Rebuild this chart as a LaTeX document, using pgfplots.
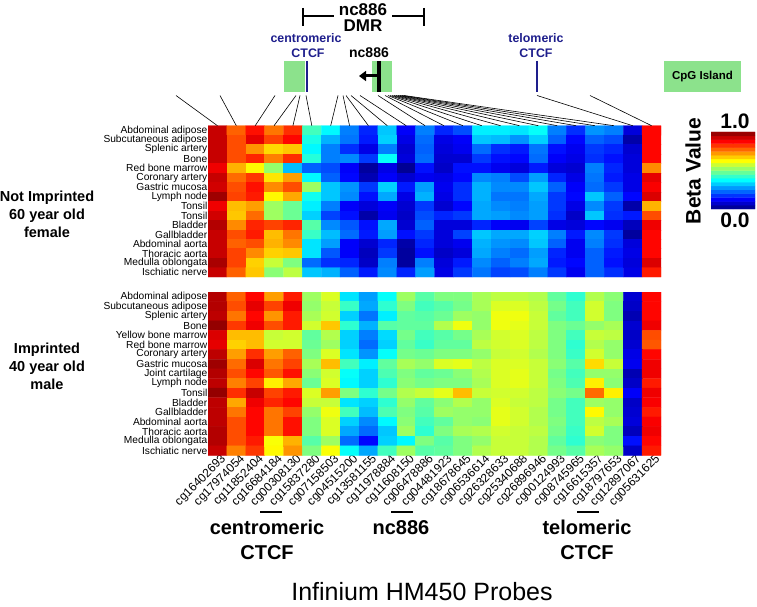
\documentclass[border=0pt]{standalone}
\usepackage{pgfplots}
\pgfplotsset{compat=1.18}
\usetikzlibrary{arrows.meta}
\usepackage{fontspec}
\setmainfont{Liberation Sans}
\definecolor{annblue}{RGB}{30,30,140}
\definecolor{cpggreen}{RGB}{140,226,140}
\newcommand{\fs}[2]{\fontsize{#1}{#2}\selectfont}
\begin{document}
\begin{tikzpicture}
\useasboundingbox (0pt,0pt) rectangle (757pt,-607pt);
\pgfplotsset{
  heat/.style={
    anchor=north west, scale only axis, width=453pt,
    xmin=-0.5, xmax=23.5,
    colormap/jet, point meta min=0, point meta max=1,
    axis line style={draw=none}, major tick length=0pt,
    yticklabel style={font=\fs{10.2}{10}, inner sep=0.5pt},
  }
}
% ---------------- top heatmap ----------------
\begin{axis}[heat, at={(208pt,-125.7pt)}, height=151.3pt, ymin=-15.5, ymax=0.5,
  xtick=\empty,
  ytick={0,-1,-2,-3,-4,-5,-6,-7,-8,-9,-10,-11,-12,-13,-14,-15},
  yticklabels={Abdominal adipose,Subcutaneous adipose,Splenic artery,Bone,Red bone marrow,Coronary artery,Gastric mucosa,Lymph node,Tonsil,Tonsil,Bladder,Gallbladder,Abdominal aorta,Thoracic aorta,Medulla oblongata,Ischiatic nerve}]
\addplot[matrix plot*, mesh/cols=24, point meta=explicit] coordinates {
(0,0)[0.93] (1,0)[0.78] (2,0)[0.86] (3,0)[0.76] (4,0)[0.83] (5,0)[0.44] (6,0)[0.37] (7,0)[0.25] (8,0)[0.16] (9,0)[0.32] (10,0)[0.12] (11,0)[0.25] (12,0)[0.16] (13,0)[0.20] (14,0)[0.36] (15,0)[0.36] (16,0)[0.35] (17,0)[0.38] (18,0)[0.25] (19,0)[0.17] (20,0)[0.27] (21,0)[0.25] (22,0)[0.09] (23,0)[0.87]
(0,-1)[0.93] (1,-1)[0.80] (2,-1)[0.90] (3,-1)[0.81] (4,-1)[0.87] (5,-1)[0.40] (6,-1)[0.30] (7,-1)[0.24] (8,-1)[0.15] (9,-1)[0.33] (10,-1)[0.10] (11,-1)[0.23] (12,-1)[0.10] (13,-1)[0.12] (14,-1)[0.32] (15,-1)[0.31] (16,-1)[0.27] (17,-1)[0.33] (18,-1)[0.22] (19,-1)[0.13] (20,-1)[0.22] (21,-1)[0.20] (22,-1)[0.04] (23,-1)[0.87]
(0,-2)[0.93] (1,-2)[0.80] (2,-2)[0.73] (3,-2)[0.66] (4,-2)[0.68] (5,-2)[0.37] (6,-2)[0.25] (7,-2)[0.17] (8,-2)[0.10] (9,-2)[0.25] (10,-2)[0.08] (11,-2)[0.22] (12,-2)[0.09] (13,-2)[0.11] (14,-2)[0.23] (15,-2)[0.17] (16,-2)[0.15] (17,-2)[0.24] (18,-2)[0.14] (19,-2)[0.11] (20,-2)[0.18] (21,-2)[0.16] (22,-2)[0.08] (23,-2)[0.87]
(0,-3)[0.93] (1,-3)[0.80] (2,-3)[0.84] (3,-3)[0.75] (4,-3)[0.83] (5,-3)[0.41] (6,-3)[0.25] (7,-3)[0.26] (8,-3)[0.18] (9,-3)[0.38] (10,-3)[0.09] (11,-3)[0.23] (12,-3)[0.08] (13,-3)[0.08] (14,-3)[0.18] (15,-3)[0.14] (16,-3)[0.13] (17,-3)[0.23] (18,-3)[0.12] (19,-3)[0.10] (20,-3)[0.17] (21,-3)[0.14] (22,-3)[0.09] (23,-3)[0.87]
(0,-4)[0.89] (1,-4)[0.70] (2,-4)[0.63] (3,-4)[0.52] (4,-4)[0.31] (5,-4)[0.22] (6,-4)[0.20] (7,-4)[0.12] (8,-4)[0.03] (9,-4)[0.10] (10,-4)[0.02] (11,-4)[0.14] (12,-4)[0.07] (13,-4)[0.14] (14,-4)[0.14] (15,-4)[0.11] (16,-4)[0.09] (17,-4)[0.15] (18,-4)[0.09] (19,-4)[0.08] (20,-4)[0.25] (21,-4)[0.16] (22,-4)[0.09] (23,-4)[0.74]
(0,-5)[0.93] (1,-5)[0.77] (2,-5)[0.82] (3,-5)[0.65] (4,-5)[0.72] (5,-5)[0.37] (6,-5)[0.22] (7,-5)[0.13] (8,-5)[0.05] (9,-5)[0.12] (10,-5)[0.08] (11,-5)[0.11] (12,-5)[0.10] (13,-5)[0.13] (14,-5)[0.26] (15,-5)[0.25] (16,-5)[0.20] (17,-5)[0.28] (18,-5)[0.16] (19,-5)[0.10] (20,-5)[0.24] (21,-5)[0.15] (22,-5)[0.10] (23,-5)[0.90]
(0,-6)[0.92] (1,-6)[0.80] (2,-6)[0.86] (3,-6)[0.74] (4,-6)[0.80] (5,-6)[0.53] (6,-6)[0.32] (7,-6)[0.27] (8,-6)[0.18] (9,-6)[0.33] (10,-6)[0.15] (11,-6)[0.28] (12,-6)[0.11] (13,-6)[0.17] (14,-6)[0.30] (15,-6)[0.26] (16,-6)[0.26] (17,-6)[0.32] (18,-6)[0.22] (19,-6)[0.12] (20,-6)[0.23] (21,-6)[0.18] (22,-6)[0.10] (23,-6)[0.88]
(0,-7)[0.97] (1,-7)[0.81] (2,-7)[0.85] (3,-7)[0.63] (4,-7)[0.71] (5,-7)[0.39] (6,-7)[0.32] (7,-7)[0.26] (8,-7)[0.14] (9,-7)[0.29] (10,-7)[0.10] (11,-7)[0.30] (12,-7)[0.10] (13,-7)[0.17] (14,-7)[0.30] (15,-7)[0.24] (16,-7)[0.24] (17,-7)[0.29] (18,-7)[0.18] (19,-7)[0.13] (20,-7)[0.32] (21,-7)[0.22] (22,-7)[0.13] (23,-7)[0.91]
(0,-8)[0.89] (1,-8)[0.69] (2,-8)[0.72] (3,-8)[0.53] (4,-8)[0.48] (5,-8)[0.36] (6,-8)[0.25] (7,-8)[0.12] (8,-8)[0.09] (9,-8)[0.12] (10,-8)[0.08] (11,-8)[0.18] (12,-8)[0.08] (13,-8)[0.13] (14,-8)[0.29] (15,-8)[0.26] (16,-8)[0.25] (17,-8)[0.28] (18,-8)[0.18] (19,-8)[0.10] (20,-8)[0.26] (21,-8)[0.18] (22,-8)[0.04] (23,-8)[0.70]
(0,-9)[0.92] (1,-9)[0.68] (2,-9)[0.77] (3,-9)[0.53] (4,-9)[0.48] (5,-9)[0.33] (6,-9)[0.19] (7,-9)[0.14] (8,-9)[0.04] (9,-9)[0.11] (10,-9)[0.07] (11,-9)[0.20] (12,-9)[0.16] (13,-9)[0.18] (14,-9)[0.29] (15,-9)[0.28] (16,-9)[0.26] (17,-9)[0.28] (18,-9)[0.17] (19,-9)[0.07] (20,-9)[0.32] (21,-9)[0.17] (22,-9)[0.15] (23,-9)[0.80]
(0,-10)[0.95] (1,-10)[0.74] (2,-10)[0.84] (3,-10)[0.81] (4,-10)[0.84] (5,-10)[0.46] (6,-10)[0.26] (7,-10)[0.21] (8,-10)[0.14] (9,-10)[0.29] (10,-10)[0.08] (11,-10)[0.22] (12,-10)[0.09] (13,-10)[0.09] (14,-10)[0.16] (15,-10)[0.12] (16,-10)[0.11] (17,-10)[0.19] (18,-10)[0.10] (19,-10)[0.09] (20,-10)[0.13] (21,-10)[0.11] (22,-10)[0.06] (23,-10)[0.89]
(0,-11)[0.93] (1,-11)[0.80] (2,-11)[0.85] (3,-11)[0.69] (4,-11)[0.76] (5,-11)[0.43] (6,-11)[0.31] (7,-11)[0.23] (8,-11)[0.15] (9,-11)[0.28] (10,-11)[0.14] (11,-11)[0.18] (12,-11)[0.09] (13,-11)[0.19] (14,-11)[0.32] (15,-11)[0.29] (16,-11)[0.29] (17,-11)[0.33] (18,-11)[0.25] (19,-11)[0.15] (20,-11)[0.26] (21,-11)[0.18] (22,-11)[0.03] (23,-11)[0.87]
(0,-12)[0.93] (1,-12)[0.78] (2,-12)[0.80] (3,-12)[0.70] (4,-12)[0.74] (5,-12)[0.35] (6,-12)[0.28] (7,-12)[0.12] (8,-12)[0.08] (9,-12)[0.16] (10,-12)[0.04] (11,-12)[0.16] (12,-12)[0.09] (13,-12)[0.11] (14,-12)[0.30] (15,-12)[0.27] (16,-12)[0.26] (17,-12)[0.32] (18,-12)[0.22] (19,-12)[0.11] (20,-12)[0.25] (21,-12)[0.17] (22,-12)[0.09] (23,-12)[0.87]
(0,-13)[0.93] (1,-13)[0.81] (2,-13)[0.74] (3,-13)[0.67] (4,-13)[0.68] (5,-13)[0.35] (6,-13)[0.21] (7,-13)[0.12] (8,-13)[0.06] (9,-13)[0.18] (10,-13)[0.03] (11,-13)[0.14] (12,-13)[0.07] (13,-13)[0.09] (14,-13)[0.29] (15,-13)[0.25] (16,-13)[0.23] (17,-13)[0.28] (18,-13)[0.16] (19,-13)[0.11] (20,-13)[0.22] (21,-13)[0.15] (22,-13)[0.10] (23,-13)[0.87]
(0,-14)[0.96] (1,-14)[0.81] (2,-14)[0.67] (3,-14)[0.57] (4,-14)[0.50] (5,-14)[0.23] (6,-14)[0.17] (7,-14)[0.16] (8,-14)[0.07] (9,-14)[0.25] (10,-14)[0.03] (11,-14)[0.25] (12,-14)[0.09] (13,-14)[0.15] (14,-14)[0.26] (15,-14)[0.22] (16,-14)[0.25] (17,-14)[0.29] (18,-14)[0.15] (19,-14)[0.13] (20,-14)[0.22] (21,-14)[0.14] (22,-14)[0.09] (23,-14)[0.91]
(0,-15)[0.93] (1,-15)[0.78] (2,-15)[0.68] (3,-15)[0.51] (4,-15)[0.56] (5,-15)[0.32] (6,-15)[0.30] (7,-15)[0.22] (8,-15)[0.15] (9,-15)[0.26] (10,-15)[0.16] (11,-15)[0.28] (12,-15)[0.10] (13,-15)[0.18] (14,-15)[0.24] (15,-15)[0.19] (16,-15)[0.20] (17,-15)[0.25] (18,-15)[0.18] (19,-15)[0.11] (20,-15)[0.22] (21,-15)[0.17] (22,-15)[0.10] (23,-15)[0.85]
};
\end{axis}
% ---------------- bottom heatmap ----------------
\begin{axis}[heat, at={(208pt,-292pt)}, height=163.4pt, ymin=-16.5, ymax=0.5,
  xtick={0,...,23},
  xticklabels={cg16402693,cg17974054,cg11852404,cg16684184,cg00308130,cg15837280,cg07158503,cg04515200,cg13581155,cg11978884,cg11608150,cg06478886,cg04481923,cg18678645,cg06536614,cg26328633,cg25340688,cg26896946,cg00124993,cg08745965,cg16615357,cg18797653,cg12897067,cg05631625},
  xticklabel style={font=\fs{12}{12}, rotate=45, anchor=north east, inner sep=0.5pt, xshift=4pt},
  ytick={0,-1,-2,-3,-4,-5,-6,-7,-8,-9,-10,-11,-12,-13,-14,-15,-16},
  yticklabels={Abdominal adipose,Subcutaneous adipose,Splenic artery,Bone,Yellow bone marrow,Red bone marrow,Coronary artery,Gastric mucosa,Joint cartilage,Lymph node,Tonsil,Bladder,Gallbladder,Abdominal aorta,Thoracic aorta,Medulla oblongata,Ischiatic nerve}]
\addplot[matrix plot*, mesh/cols=24, point meta=explicit] coordinates {
(0,0)[0.95] (1,0)[0.78] (2,0)[0.87] (3,0)[0.72] (4,0)[0.85] (5,0)[0.53] (6,0)[0.59] (7,0)[0.35] (8,0)[0.28] (9,0)[0.38] (10,0)[0.53] (11,0)[0.46] (12,0)[0.50] (13,0)[0.50] (14,0)[0.54] (15,0)[0.56] (16,0)[0.56] (17,0)[0.55] (18,0)[0.47] (19,0)[0.42] (20,0)[0.55] (21,0)[0.51] (22,0)[0.08] (23,0)[0.87]
(0,-1)[0.95] (1,-1)[0.80] (2,-1)[0.90] (3,-1)[0.81] (4,-1)[0.89] (5,-1)[0.52] (6,-1)[0.57] (7,-1)[0.43] (8,-1)[0.29] (9,-1)[0.42] (10,-1)[0.50] (11,-1)[0.44] (12,-1)[0.46] (13,-1)[0.49] (14,-1)[0.54] (15,-1)[0.59] (16,-1)[0.59] (17,-1)[0.56] (18,-1)[0.49] (19,-1)[0.44] (20,-1)[0.58] (21,-1)[0.50] (22,-1)[0.07] (23,-1)[0.87]
(0,-2)[0.94] (1,-2)[0.76] (2,-2)[0.87] (3,-2)[0.73] (4,-2)[0.85] (5,-2)[0.54] (6,-2)[0.58] (7,-2)[0.33] (8,-2)[0.24] (9,-2)[0.36] (10,-2)[0.47] (11,-2)[0.46] (12,-2)[0.48] (13,-2)[0.53] (14,-2)[0.52] (15,-2)[0.61] (16,-2)[0.61] (17,-2)[0.57] (18,-2)[0.47] (19,-2)[0.44] (20,-2)[0.58] (21,-2)[0.50] (22,-2)[0.05] (23,-2)[0.87]
(0,-3)[0.98] (1,-3)[0.82] (2,-3)[0.89] (3,-3)[0.80] (4,-3)[0.85] (5,-3)[0.58] (6,-3)[0.68] (7,-3)[0.42] (8,-3)[0.30] (9,-3)[0.46] (10,-3)[0.47] (11,-3)[0.47] (12,-3)[0.55] (13,-3)[0.61] (14,-3)[0.52] (15,-3)[0.61] (16,-3)[0.60] (17,-3)[0.57] (18,-3)[0.50] (19,-3)[0.48] (20,-3)[0.52] (21,-3)[0.54] (22,-3)[0.08] (23,-3)[0.89]
(0,-4)[0.91] (1,-4)[0.69] (2,-4)[0.69] (3,-4)[0.57] (4,-4)[0.58] (5,-4)[0.47] (6,-4)[0.55] (7,-4)[0.33] (8,-4)[0.25] (9,-4)[0.34] (10,-4)[0.49] (11,-4)[0.44] (12,-4)[0.46] (13,-4)[0.49] (14,-4)[0.54] (15,-4)[0.58] (16,-4)[0.59] (17,-4)[0.56] (18,-4)[0.50] (19,-4)[0.44] (20,-4)[0.57] (21,-4)[0.56] (22,-4)[0.07] (23,-4)[0.80]
(0,-5)[0.90] (1,-5)[0.67] (2,-5)[0.69] (3,-5)[0.58] (4,-5)[0.58] (5,-5)[0.48] (6,-5)[0.53] (7,-5)[0.33] (8,-5)[0.23] (9,-5)[0.33] (10,-5)[0.47] (11,-5)[0.43] (12,-5)[0.47] (13,-5)[0.47] (14,-5)[0.56] (15,-5)[0.58] (16,-5)[0.59] (17,-5)[0.56] (18,-5)[0.50] (19,-5)[0.42] (20,-5)[0.55] (21,-5)[0.52] (22,-5)[0.08] (23,-5)[0.79]
(0,-6)[0.94] (1,-6)[0.72] (2,-6)[0.83] (3,-6)[0.72] (4,-6)[0.78] (5,-6)[0.50] (6,-6)[0.59] (7,-6)[0.35] (8,-6)[0.27] (9,-6)[0.38] (10,-6)[0.49] (11,-6)[0.48] (12,-6)[0.50] (13,-6)[0.50] (14,-6)[0.52] (15,-6)[0.57] (16,-6)[0.58] (17,-6)[0.55] (18,-6)[0.50] (19,-6)[0.43] (20,-6)[0.58] (21,-6)[0.52] (22,-6)[0.10] (23,-6)[0.87]
(0,-7)[0.97] (1,-7)[0.77] (2,-7)[0.91] (3,-7)[0.76] (4,-7)[0.81] (5,-7)[0.54] (6,-7)[0.69] (7,-7)[0.44] (8,-7)[0.36] (9,-7)[0.47] (10,-7)[0.54] (11,-7)[0.52] (12,-7)[0.59] (13,-7)[0.60] (14,-7)[0.56] (15,-7)[0.59] (16,-7)[0.59] (17,-7)[0.57] (18,-7)[0.51] (19,-7)[0.46] (20,-7)[0.66] (21,-7)[0.57] (22,-7)[0.11] (23,-7)[0.89]
(0,-8)[0.95] (1,-8)[0.80] (2,-8)[0.87] (3,-8)[0.79] (4,-8)[0.86] (5,-8)[0.51] (6,-8)[0.58] (7,-8)[0.38] (8,-8)[0.33] (9,-8)[0.45] (10,-8)[0.50] (11,-8)[0.47] (12,-8)[0.48] (13,-8)[0.51] (14,-8)[0.55] (15,-8)[0.59] (16,-8)[0.60] (17,-8)[0.57] (18,-8)[0.49] (19,-8)[0.44] (20,-8)[0.52] (21,-8)[0.52] (22,-8)[0.05] (23,-8)[0.89]
(0,-9)[0.94] (1,-9)[0.75] (2,-9)[0.81] (3,-9)[0.64] (4,-9)[0.71] (5,-9)[0.48] (6,-9)[0.59] (7,-9)[0.37] (8,-9)[0.33] (9,-9)[0.42] (10,-9)[0.51] (11,-9)[0.49] (12,-9)[0.50] (13,-9)[0.50] (14,-9)[0.54] (15,-9)[0.59] (16,-9)[0.60] (17,-9)[0.57] (18,-9)[0.50] (19,-9)[0.45] (20,-9)[0.64] (21,-9)[0.51] (22,-9)[0.07] (23,-9)[0.85]
(0,-10)[0.98] (1,-10)[0.83] (2,-10)[0.93] (3,-10)[0.81] (4,-10)[0.85] (5,-10)[0.59] (6,-10)[0.72] (7,-10)[0.50] (8,-10)[0.42] (9,-10)[0.49] (10,-10)[0.55] (11,-10)[0.57] (12,-10)[0.60] (13,-10)[0.69] (14,-10)[0.57] (15,-10)[0.58] (16,-10)[0.58] (17,-10)[0.56] (18,-10)[0.51] (19,-10)[0.49] (20,-10)[0.77] (21,-10)[0.64] (22,-10)[0.12] (23,-10)[0.89]
(0,-11)[0.94] (1,-11)[0.71] (2,-11)[0.89] (3,-11)[0.84] (4,-11)[0.87] (5,-11)[0.57] (6,-11)[0.57] (7,-11)[0.35] (8,-11)[0.33] (9,-11)[0.42] (10,-11)[0.52] (11,-11)[0.47] (12,-11)[0.51] (13,-11)[0.55] (14,-11)[0.52] (15,-11)[0.59] (16,-11)[0.57] (17,-11)[0.56] (18,-11)[0.49] (19,-11)[0.44] (20,-11)[0.53] (21,-11)[0.52] (22,-11)[0.07] (23,-11)[0.88]
(0,-12)[0.94] (1,-12)[0.76] (2,-12)[0.87] (3,-12)[0.76] (4,-12)[0.81] (5,-12)[0.52] (6,-12)[0.61] (7,-12)[0.44] (8,-12)[0.31] (9,-12)[0.45] (10,-12)[0.50] (11,-12)[0.46] (12,-12)[0.53] (13,-12)[0.52] (14,-12)[0.52] (15,-12)[0.60] (16,-12)[0.58] (17,-12)[0.55] (18,-12)[0.49] (19,-12)[0.44] (20,-12)[0.63] (21,-12)[0.52] (22,-12)[0.08] (23,-12)[0.85]
(0,-13)[0.94] (1,-13)[0.80] (2,-13)[0.87] (3,-13)[0.76] (4,-13)[0.86] (5,-13)[0.50] (6,-13)[0.59] (7,-13)[0.33] (8,-13)[0.26] (9,-13)[0.37] (10,-13)[0.51] (11,-13)[0.44] (12,-13)[0.47] (13,-13)[0.52] (14,-13)[0.51] (15,-13)[0.60] (16,-13)[0.58] (17,-13)[0.55] (18,-13)[0.50] (19,-13)[0.44] (20,-13)[0.56] (21,-13)[0.54] (22,-13)[0.09] (23,-13)[0.88]
(0,-14)[0.95] (1,-14)[0.80] (2,-14)[0.87] (3,-14)[0.76] (4,-14)[0.86] (5,-14)[0.50] (6,-14)[0.59] (7,-14)[0.29] (8,-14)[0.23] (9,-14)[0.32] (10,-14)[0.53] (11,-14)[0.42] (12,-14)[0.50] (13,-14)[0.54] (14,-14)[0.55] (15,-14)[0.58] (16,-14)[0.57] (17,-14)[0.56] (18,-14)[0.49] (19,-14)[0.43] (20,-14)[0.58] (21,-14)[0.50] (22,-14)[0.06] (23,-14)[0.89]
(0,-15)[0.95] (1,-15)[0.80] (2,-15)[0.85] (3,-15)[0.62] (4,-15)[0.70] (5,-15)[0.46] (6,-15)[0.53] (7,-15)[0.23] (8,-15)[0.13] (9,-15)[0.33] (10,-15)[0.37] (11,-15)[0.50] (12,-15)[0.46] (13,-15)[0.50] (14,-15)[0.52] (15,-15)[0.57] (16,-15)[0.57] (17,-15)[0.55] (18,-15)[0.47] (19,-15)[0.42] (20,-15)[0.51] (21,-15)[0.50] (22,-15)[0.14] (23,-15)[0.87]
(0,-16)[0.93] (1,-16)[0.75] (2,-16)[0.82] (3,-16)[0.63] (4,-16)[0.73] (5,-16)[0.50] (6,-16)[0.62] (7,-16)[0.38] (8,-16)[0.29] (9,-16)[0.44] (10,-16)[0.53] (11,-16)[0.46] (12,-16)[0.47] (13,-16)[0.50] (14,-16)[0.55] (15,-16)[0.57] (16,-16)[0.57] (17,-16)[0.55] (18,-16)[0.49] (19,-16)[0.46] (20,-16)[0.54] (21,-16)[0.52] (22,-16)[0.07] (23,-16)[0.85]
};
\end{axis}
% ---------------- colour bar ----------------
\begin{axis}[anchor=north west, at={(711pt,-132pt)}, scale only axis, width=44pt, height=77pt,
  xmin=-0.5, xmax=1.5, ymin=0, ymax=1, hide axis,
  colormap/jet, point meta min=0, point meta max=1]
\addplot[matrix plot*, mesh/cols=2, point meta=explicit] coordinates {
(0,0.025)[0.025] (1,0.025)[0.025]
(0,0.075)[0.075] (1,0.075)[0.075]
(0,0.125)[0.125] (1,0.125)[0.125]
(0,0.175)[0.175] (1,0.175)[0.175]
(0,0.225)[0.225] (1,0.225)[0.225]
(0,0.275)[0.275] (1,0.275)[0.275]
(0,0.325)[0.325] (1,0.325)[0.325]
(0,0.375)[0.375] (1,0.375)[0.375]
(0,0.425)[0.425] (1,0.425)[0.425]
(0,0.475)[0.475] (1,0.475)[0.475]
(0,0.525)[0.525] (1,0.525)[0.525]
(0,0.575)[0.575] (1,0.575)[0.575]
(0,0.625)[0.625] (1,0.625)[0.625]
(0,0.675)[0.675] (1,0.675)[0.675]
(0,0.725)[0.725] (1,0.725)[0.725]
(0,0.775)[0.775] (1,0.775)[0.775]
(0,0.825)[0.825] (1,0.825)[0.825]
(0,0.875)[0.875] (1,0.875)[0.875]
(0,0.925)[0.925] (1,0.925)[0.925]
(0,0.975)[0.975] (1,0.975)[0.975]
};
\end{axis}
\begin{scope}[x=1pt,y=-1pt]
\node[font=\bfseries\fs{21}{21}] at (735,121) {1.0};
\node[font=\bfseries\fs{21}{21}] at (735,220) {0.0};
\node[font=\bfseries\fs{21}{21}, rotate=90] at (693,171) {Beta Value};
% ---------------- connecting lines ----------------
\foreach \t/\k in {176/0,220/1,275/2,296/3,300/4,306/5,338/6,343/7,346/8,351/9,360/10,378/11,385/12,388/13,390/14,392/15,394/16,396/17,398/18,400/19,402/20,404/21,537/22,590/23}
  \draw[line width=0.6pt] (\t,95.5) -- ({208+18.875*(\k+0.5)},125.7);
% ---------------- annotation track ----------------
\fill[cpggreen] (284,61) rectangle (305,92);
\draw[annblue, line width=1.2pt] (307,61) -- (307,92);
\fill[cpggreen] (372,61) rectangle (392,92);
\draw[line width=3.5pt] (379,61) -- (379,92);
\draw[line width=3pt, -{Triangle[length=7pt,width=10pt]}] (379,76) -- (359,76);
\draw[annblue, line width=1.2pt] (537,61) -- (537,92);
\fill[cpggreen] (664,61) rectangle (741,92);
\node[font=\bfseries\fs{11.5}{12}] at (702.5,76.5) {CpG Island};
\node[annblue, font=\bfseries\fs{12.4}{13}] at (306,38) {centromeric};
\node[annblue, font=\bfseries\fs{12.4}{13}] at (308,53) {CTCF};
\node[font=\bfseries\fs{14}{14}] at (369,53) {nc886};
\node[annblue, font=\bfseries\fs{12.4}{13}] at (536,38) {telomeric};
\node[annblue, font=\bfseries\fs{12.4}{13}] at (536,53) {CTCF};
\node[font=\bfseries\fs{17}{17}] at (363,10) {nc886};
\node[font=\bfseries\fs{17}{17}] at (363,26) {DMR};
\draw[line width=2.2pt] (303,16) -- (334,16) (392,16) -- (424,16) (303,8) -- (303,26) (424,8) -- (424,26);
% ---------------- left group labels ----------------
\node[align=center, font=\bfseries\fs{14.5}{18}] at (47,214) {Not Imprinted\\60 year old\\female};
\node[align=center, font=\bfseries\fs{14.5}{18}] at (47,366) {Imprinted\\40 year old\\male};
% ---------------- bottom labels ----------------
\draw[line width=1.5pt] (260,512) -- (282,512) (391,512) -- (413,512) (577,512) -- (599,512);
\node[align=center, font=\bfseries\fs{20}{25}] at (267,540) {centromeric\\CTCF};
\node[font=\bfseries\fs{20}{25}] at (401,528) {nc886};
\node[align=center, font=\bfseries\fs{20}{25}] at (587,540) {telomeric\\CTCF};
\node[font=\fs{25}{25}] at (422,592) {Infinium HM450 Probes};
\end{scope}
\end{tikzpicture}
\end{document}
